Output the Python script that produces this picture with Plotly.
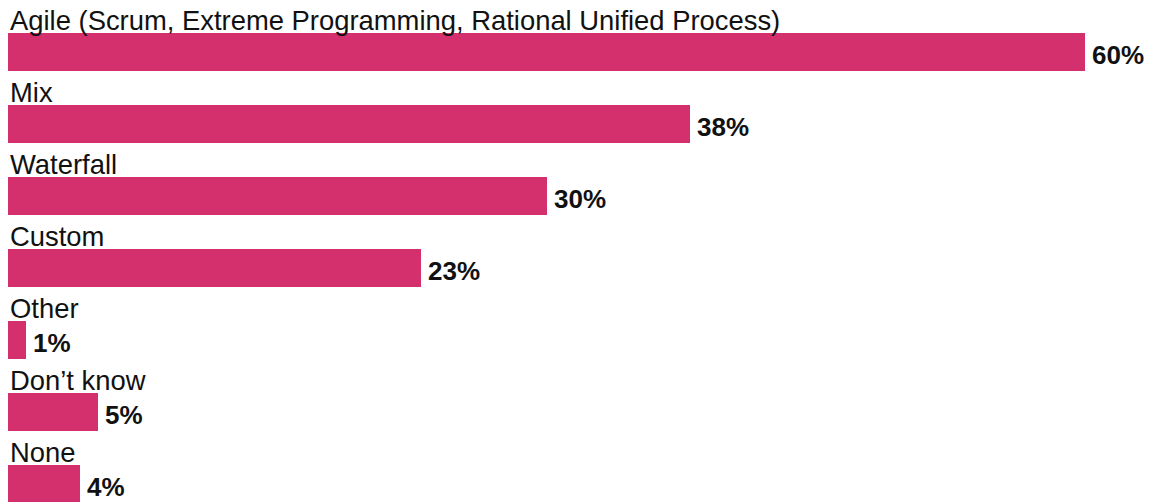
import plotly.graph_objects as go

categories = ["Agile (Scrum, Extreme Programming, Rational Unified Process)",
              "Mix", "Waterfall", "Custom", "Other", "Don\u2019t know", "None"]
values = [60, 38, 30, 23, 1, 5, 4]
value_labels = ["60%", "38%", "30%", "23%", "1%", "5%", "4%"]

BAR_COLOR = "#D4306E"
BAR_W = 0.52
pos = list(range(len(categories)))

fig = go.Figure()
fig.add_trace(go.Bar(
    x=values, y=pos, orientation="h", width=BAR_W,
    marker=dict(color=BAR_COLOR, line=dict(width=0)),
    hoverinfo="skip",
))

annotations = []
for i, (cat, v, lab) in enumerate(zip(categories, values, value_labels)):
    annotations.append(dict(
        x=0, y=i - BAR_W / 2, xref="x", yref="y", text=cat,
        xanchor="left", yanchor="bottom", showarrow=False,
        xshift=0, yshift=-5,
        font=dict(family="Liberation Sans, Arial, sans-serif", size=27.4, color="#111111"),
    ))
    annotations.append(dict(
        x=v, y=i, xref="x", yref="y", text="<b>" + lab + "</b>",
        xanchor="left", yanchor="middle", showarrow=False,
        xshift=5, yshift=-3,
        font=dict(family="Liberation Sans, Arial, sans-serif", size=26, color="#111111"),
    ))

fig.update_layout(
    width=1154, height=494,
    margin=dict(l=0, r=0, t=0, b=0),
    paper_bgcolor="white", plot_bgcolor="white",
    showlegend=False,
    bargap=0,
    annotations=annotations,
    xaxis=dict(range=[0, 64.29], visible=False, showgrid=False, zeroline=False, fixedrange=True),
    yaxis=dict(range=[6.25, -0.611], visible=False, showgrid=False, zeroline=False, fixedrange=True),
)

fig.write_html("out.html", config={"displayModeBar": False})
